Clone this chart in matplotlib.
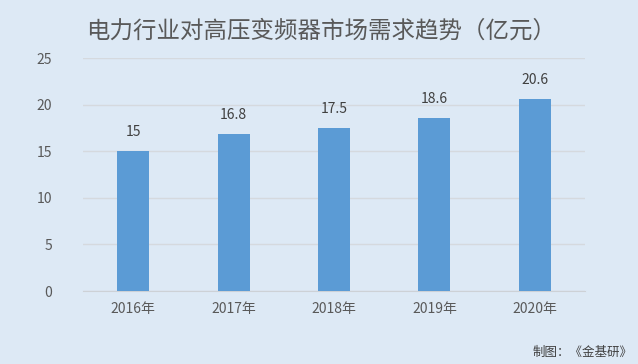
import matplotlib
matplotlib.use("Agg")
import matplotlib.pyplot as plt

plt.rcParams['font.family'] = ['Noto Sans CJK SC', 'DejaVu Sans']

categories = ["2016年", "2017年", "2018年", "2019年", "2020年"]
values = [15, 16.8, 17.5, 18.6, 20.6]
value_labels = ["15", "16.8", "17.5", "18.6", "20.6"]
yticks = [0, 5, 10, 15, 20, 25]

bg = "#dde9f5"
txt = "#595959"

fig = plt.figure(figsize=(6.38, 3.64), dpi=100, facecolor=bg)
ax = fig.add_axes([0.130, 0.2005, 0.787, 0.640], facecolor=bg)

x = list(range(len(categories)))
bars = ax.bar(x, values, width=0.32, color="#5b9bd5", zorder=3)
for xi, v, lab in zip(x, values, value_labels):
    ax.text(xi, v + 1.3, lab, ha="center", va="bottom", fontsize=10, color="#404040")

ax.set_xlim(-0.5, len(categories) - 0.5)
ax.set_ylim(0, 25)
ax.set_yticks(yticks)
ax.set_yticklabels([str(t) for t in yticks], fontsize=10, color=txt)
ax.set_xticks(x)
ax.set_xticklabels(categories, fontsize=10, color=txt)
ax.tick_params(axis="both", length=0)
ax.tick_params(axis="y", pad=22)
ax.tick_params(axis="x", pad=8)
ax.grid(axis="y", color="#d5d9de", linewidth=1, zorder=0)
for s in ["top", "right", "left"]:
    ax.spines[s].set_visible(False)
ax.spines["bottom"].set_color("#cdd1d6")

fig.text(0.504, 0.915, "电力行业对高压变频器市场需求趋势（亿元）", ha="center", va="center",
         fontsize=16.9, color=txt)
fig.text(0.992, 0.033, "制图：《金基研》", ha="right", va="center", fontsize=9, color="#404040")

fig.savefig("out.png", dpi=100, facecolor=bg)
